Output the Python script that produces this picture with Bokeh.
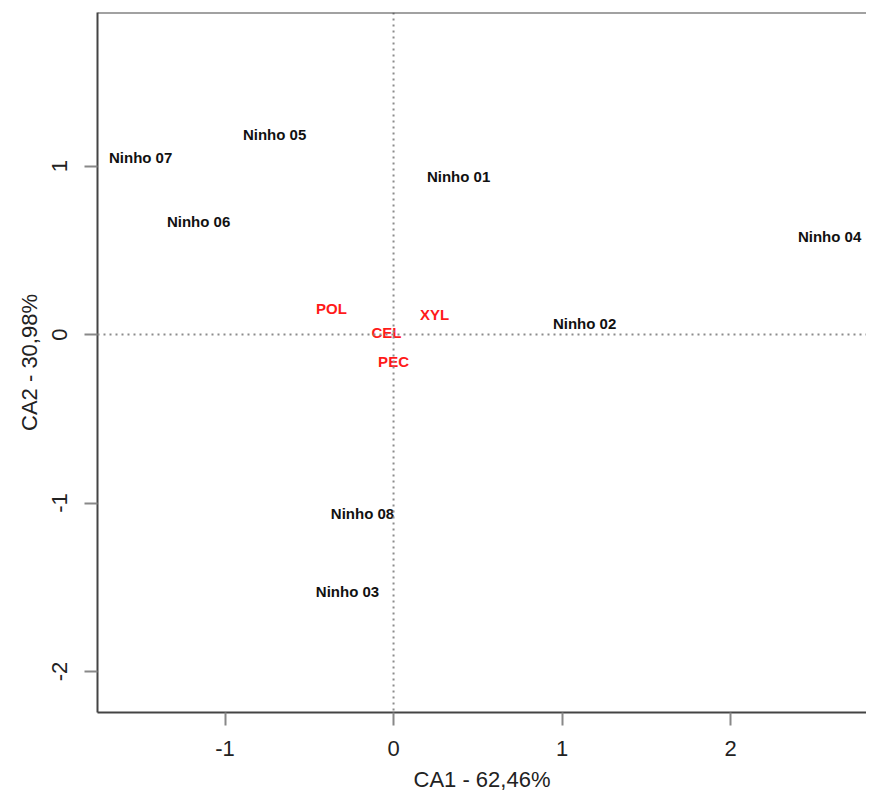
from bokeh.plotting import figure
from bokeh.models import ColumnDataSource, Range1d, FixedTicker, Span, PrintfTickFormatter
from bokeh.core.properties import value
from bokeh.embed import file_html
from bokeh.resources import INLINE

# --- data ---
ninho_names = ["Ninho 01", "Ninho 02", "Ninho 03", "Ninho 04",
               "Ninho 05", "Ninho 06", "Ninho 07", "Ninho 08"]
ninho_ca1 = [0.386, 1.134, -0.273, 2.588, -0.706, -1.157, -1.501, -0.184]
ninho_ca2 = [0.938, 0.065, -1.525, 0.582, 1.187, 0.671, 1.050, -1.062]

var_names = ["CEL", "PEC", "POL", "XYL"]
var_ca1 = [-0.042, 0.000, -0.368, 0.243]
var_ca2 = [0.012, -0.163, 0.154, 0.119]

x_ticks = [-1, 0, 1, 2]
y_ticks = [-2, -1, 0, 1]
x_label = "CA1 - 62,46%"
y_label = "CA2 - 30,98%"

X_MIN, X_MAX = -1.757, 2.807
Y_MIN, Y_MAX = -2.243, 1.911

FONT = "Liberation Sans"

p = figure(width=866, height=797, output_backend="svg", toolbar_location=None,
           x_range=Range1d(X_MIN, X_MAX), y_range=Range1d(Y_MIN, Y_MAX),
           min_border_left=97, min_border_top=12, min_border_right=0,
           min_border_bottom=85)
p.outline_line_color = None
p.grid.visible = False
p.background_fill_color = "white"

# reference lines
p.add_layout(Span(location=0, dimension="height", line_color="#8c8c8c",
                  line_width=2, line_dash="2 4"))
p.add_layout(Span(location=0, dimension="width", line_color="#8c8c8c",
                  line_width=2, line_dash="2 4"))
# top border of the box
p.add_layout(Span(location=Y_MAX, dimension="width", line_color="#444444",
                  line_width=2))

src_n = ColumnDataSource(dict(x=ninho_ca1, y=ninho_ca2, t=ninho_names))
src_v = ColumnDataSource(dict(x=var_ca1, y=var_ca2, t=var_names))

p.text(x="x", y="y", text="t", source=src_n, text_align="center",
       text_baseline="middle", text_font=value(FONT), text_font_size="15px",
       text_font_style="bold", text_color="#111111")
p.text(x="x", y="y", text="t", source=src_v, text_align="center",
       text_baseline="middle", text_font=value(FONT), text_font_size="15px",
       text_font_style="bold", text_color="#ff1a1a")

for ax, ticks, lab in ((p.xaxis[0], x_ticks, x_label), (p.yaxis[0], y_ticks, y_label)):
    ax.ticker = FixedTicker(ticks=ticks)
    ax.formatter = PrintfTickFormatter(format="%d")
    ax.axis_label = lab
    ax.axis_line_color = "#444444"
    ax.axis_line_width = 2
    ax.major_tick_line_color = "#888888"
    ax.major_tick_line_width = 2
    ax.major_tick_out = 13
    ax.major_tick_in = 0
    ax.minor_tick_line_color = None
    ax.major_label_text_font = FONT
    ax.major_label_text_font_size = "22px"
    ax.major_label_text_color = "#222222"
    ax.major_label_standoff = 15
    ax.axis_label_text_font = FONT
    ax.axis_label_text_font_size = "22px"
    ax.axis_label_text_font_style = "normal"
    ax.axis_label_text_color = "#222222"
    ax.axis_label_standoff = 8

p.yaxis[0].major_label_orientation = "vertical"
p.yaxis[0].major_label_standoff = 17
p.yaxis[0].axis_label_standoff = 8

open("out.html", "w").write(file_html(p, INLINE))
